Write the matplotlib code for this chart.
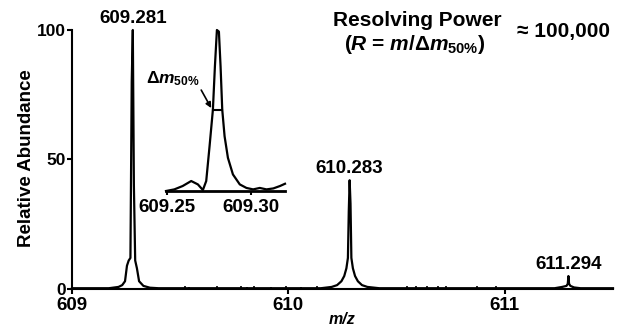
import numpy as np
import matplotlib
matplotlib.use('Agg')
import matplotlib.pyplot as plt

plt.rcParams['font.family'] = ['Liberation Sans', 'DejaVu Sans']
plt.rcParams['font.weight'] = 'bold'
plt.rcParams['mathtext.fontset'] = 'custom'
plt.rcParams['mathtext.rm'] = 'Liberation Sans:bold'
plt.rcParams['mathtext.it'] = 'Liberation Sans:italic:bold'
plt.rcParams['mathtext.bf'] = 'Liberation Sans:bold'

# full spectrum (m/z, relative abundance)
mz_main = [609.000, 609.170, 609.215, 609.232, 609.245, 609.254, 609.262, 609.270,
           609.276, 609.281, 609.286, 609.292, 609.300, 609.310, 609.330, 609.360,
           609.400, 610.150, 610.200, 610.225, 610.245, 610.258, 610.268, 610.275,
           610.279, 610.283, 610.287, 610.291, 610.298, 610.308, 610.321, 610.340,
           610.365, 610.420, 611.230, 611.265, 611.285, 611.291, 611.294, 611.297,
           611.303, 611.320, 611.350, 611.500]
ab_main = [0.3, 0.3, 0.8, 1.5, 3, 9, 11, 12,
           80, 100, 40, 11, 8, 3, 1.2, 0.5,
           0.3, 0.3, 0.8, 1.5, 3, 5, 8, 12,
           30, 42, 33, 12, 8, 5, 3, 1.5,
           0.8, 0.3, 0.3, 0.8, 1.2, 2, 5, 2,
           1.2, 0.6, 0.3, 0.3]

# little noise spikes on the baseline
noise_mz = [609.52, 609.54, 609.67, 609.78, 609.81, 609.84, 609.92, 609.99, 610.06,
            610.13, 610.55, 610.59, 610.64, 610.69, 610.73, 610.87, 610.96]
noise_ab = [1.2, 0.8, 1.0, 1.0, 0.8, 1.2, 0.8, 1.0, 0.8,
            1.0, 1.2, 1.0, 1.2, 1.0, 1.0, 1.2, 1.0]

peak_mz = [609.281, 610.283, 611.294]
peak_ab = [100, 42, 5]
peak_lbl = ['609.281', '610.283', '611.294']

# zoom on the 609.281 peak
mz_zoom = [609.2492, 609.2542, 609.2592, 609.2643, 609.2683, 609.2713, 609.2733,
           609.2753, 609.2773, 609.2785, 609.2797, 609.2809, 609.2819, 609.2829,
           609.2843, 609.2863, 609.2893, 609.2934, 609.2974, 609.3014, 609.3054,
           609.3094, 609.3135, 609.3175, 609.3205]
ab_zoom = [0, 1.0, 3.1, 6.2, 4.1, 0.6, 6.2,
           27.8, 50.5, 77.3, 100, 99, 77.3, 50.5,
           34, 20.6, 10.3, 4.1, 1.9, 1.0, 1.9,
           1.0, 1.6, 3.1, 4.5]
fwhm_mz = [609.2773, 609.2829]

W, H = 620, 331
fig = plt.figure(figsize=(W/100, H/100), dpi=100)
ax = fig.add_axes([72/W, 1-289/H, (613-72)/W, (289-30)/H])

ax.plot(mz_main, ab_main, color='k', lw=1.6, clip_on=False)
ax.vlines(noise_mz, 0, noise_ab, color='k', lw=1.2)
for x, y, s in zip(peak_mz, peak_ab, peak_lbl):
    ax.annotate(s, (x, y), xytext=(0, 2), textcoords='offset points',
                ha='center', va='bottom', fontsize=13.5, fontweight='bold')

ax.set_xlim(609, 611.5)
ax.set_ylim(0, 100)
ax.set_xticks([609, 610, 611])
ax.set_yticks([0, 50, 100])
for sp in ['top', 'right']:
    ax.spines[sp].set_visible(False)
for sp in ['left', 'bottom']:
    ax.spines[sp].set_linewidth(1.5)
ax.tick_params(axis='x', labelsize=13.5, width=1.5, length=3.5, pad=2)
ax.tick_params(axis='y', labelsize=12.5, width=1.5, length=3.5, pad=1)
for t in ax.get_xticklabels() + ax.get_yticklabels():
    t.set_fontweight('bold')

fig.text(27/W, 1-158/H, 'Relative Abundance', rotation=90, ha='center',
         va='center', fontsize=13.5, fontweight='bold')
fig.text(342/W, 1-320/H, 'm/z', ha='center', va='center', fontsize=11.5,
         fontweight='bold', style='italic')

fig.text(417/W, 1-20/H, 'Resolving Power', ha='center', va='center',
         fontsize=15, fontweight='bold')
fig.text(415/W, 1-45/H, r'($\mathit{R}$ = $\mathit{m}$/$\mathit{Δm}_{\mathit{50\%}}$)',
         ha='center', va='center', fontsize=15)
fig.text(517/W, 1-32/H, '≈ 100,000', ha='left', va='center',
         fontsize=15, fontweight='bold')

# inset
axi = fig.add_axes([166/W, 1-191/H, (285-166)/W, (191-30)/H])
axi.patch.set_alpha(0)
axi.plot(mz_zoom, ab_zoom, color='k', lw=1.6, clip_on=False)
axi.plot(fwhm_mz, [50, 50], color='k', lw=1.5)
axi.set_xlim(609.2492, 609.3205)
axi.set_ylim(0, 100)
axi.set_xticks([609.25, 609.30])
axi.set_xticklabels(['609.25', '609.30'])
axi.set_yticks([])
for sp in ['top', 'right', 'left']:
    axi.spines[sp].set_visible(False)
axi.spines['bottom'].set_linewidth(2)
axi.tick_params(axis='x', labelsize=13.5, width=1.5, length=3, pad=3)
for t in axi.get_xticklabels():
    t.set_fontweight('bold')
axi.text(609.2373, 64, r'$\mathit{Δm}_{\mathit{50\%}}$', ha='left',
         va='bottom', fontsize=12.5)
axi.annotate('', xy=(609.2763, 51.5), xytext=(609.2703, 62.7),
             arrowprops=dict(arrowstyle='-|>', color='k', lw=1.2,
                             mutation_scale=8, shrinkA=0, shrinkB=0))

fig.savefig('out.png', dpi=100)
